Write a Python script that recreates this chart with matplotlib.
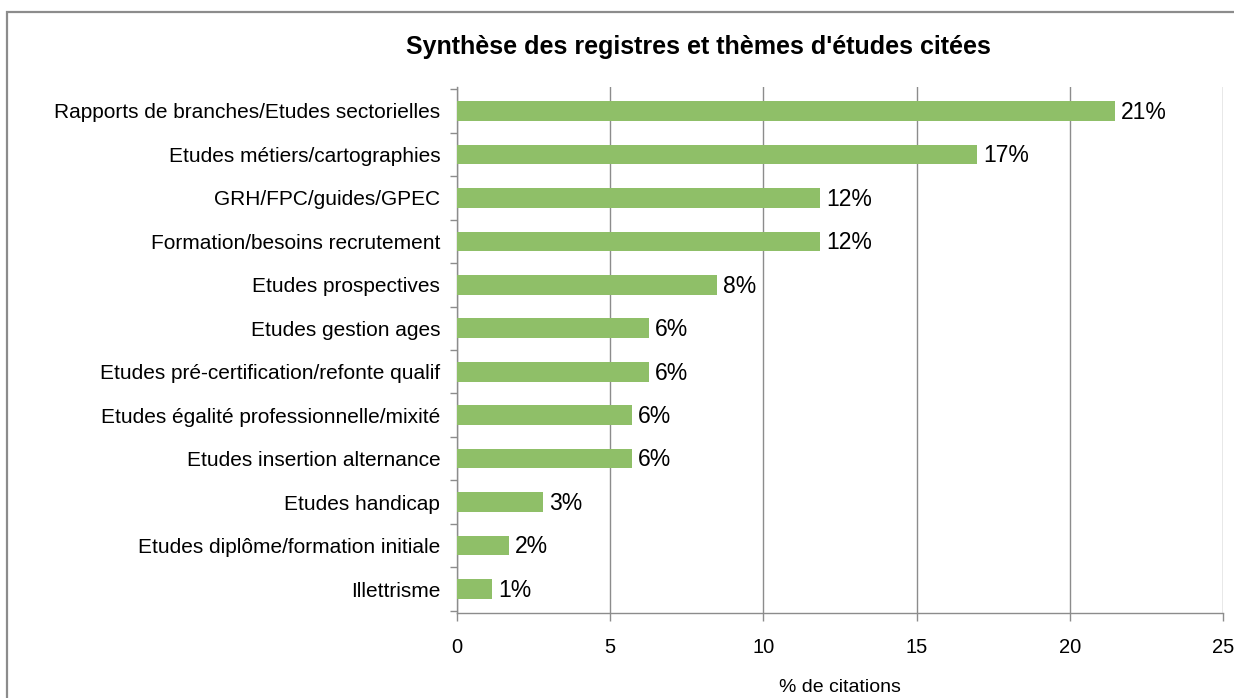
import matplotlib
matplotlib.use("Agg")
import matplotlib.pyplot as plt
from matplotlib.patches import Rectangle

categories = [
    "Rapports de branches/Etudes sectorielles",
    "Etudes métiers/cartographies",
    "GRH/FPC/guides/GPEC",
    "Formation/besoins recrutement",
    "Etudes prospectives",
    "Etudes gestion ages",
    "Etudes pré-certification/refonte qualif",
    "Etudes égalité professionnelle/mixité",
    "Etudes insertion alternance",
    "Etudes handicap",
    "Etudes diplôme/formation initiale",
    "Illettrisme",
]
values = [21.47, 16.97, 11.85, 11.85, 8.49, 6.27, 6.27, 5.71, 5.71, 2.81, 1.70, 1.14]
labels = ["21%", "17%", "12%", "12%", "8%", "6%", "6%", "6%", "6%", "3%", "2%", "1%"]
xticks = [0, 5, 10, 15, 20, 25]

plt.rcParams['font.family'] = ['Liberation Sans', 'DejaVu Sans']

W, H = 1234, 698
fig = plt.figure(figsize=(W / 100, H / 100), dpi=100)
fig.patch.set_facecolor("white")

# outer chart border
fig.add_artist(Rectangle((7 / W, -0.1), 1.2, 1 - 12 / H + 0.1, transform=fig.transFigure,
                         fill=False, edgecolor="#8c8c8c", linewidth=1.6))

left, right = 457 / W, 1223 / W
bottom, top = 1 - 613 / H, 1 - 87 / H
ax = fig.add_axes([left, bottom, right - left, top - bottom])

n = len(categories)
ypos = list(range(n))
ax.barh(ypos, values, height=0.45, color="#8fbf68", zorder=3)
ax.set_ylim(n - 0.45, -0.55)
ax.set_xlim(0, 25)
ax.set_xticks(xticks)
ax.set_xticklabels([str(t) for t in xticks], fontsize=14.5)
ax.set_yticks(ypos)
ax.set_yticklabels(categories, fontsize=15)
ax.tick_params(axis="y", length=0, pad=12)
ax.set_yticks([i + 0.5 for i in range(-1, n)], minor=True)
ax.tick_params(axis="y", which="minor", length=5, color="#8c8c8c", width=1)
ax.tick_params(axis="x", length=6, color="#8c8c8c", width=1, pad=12)

ax.grid(axis="x", color="#8c8c8c", linewidth=1, zorder=0)
for s in ["top", "right"]:
    ax.spines[s].set_visible(False)
for s in ["left", "bottom"]:
    ax.spines[s].set_color("#8c8c8c")
    ax.spines[s].set_linewidth(1)

for y, v, lab in zip(ypos, values, labels):
    ax.text(v + 0.2, y + 0.03, lab, va="center", ha="left", fontsize=16.5, color="black")

ax.set_xlabel("% de citations", fontsize=14, labelpad=16)

fig.text(698 / W, 1 - 47 / H, "Synthèse des registres et thèmes d'études citées",
         ha="center", va="center", fontsize=18, fontweight="bold")

fig.savefig("out.png", dpi=100)
